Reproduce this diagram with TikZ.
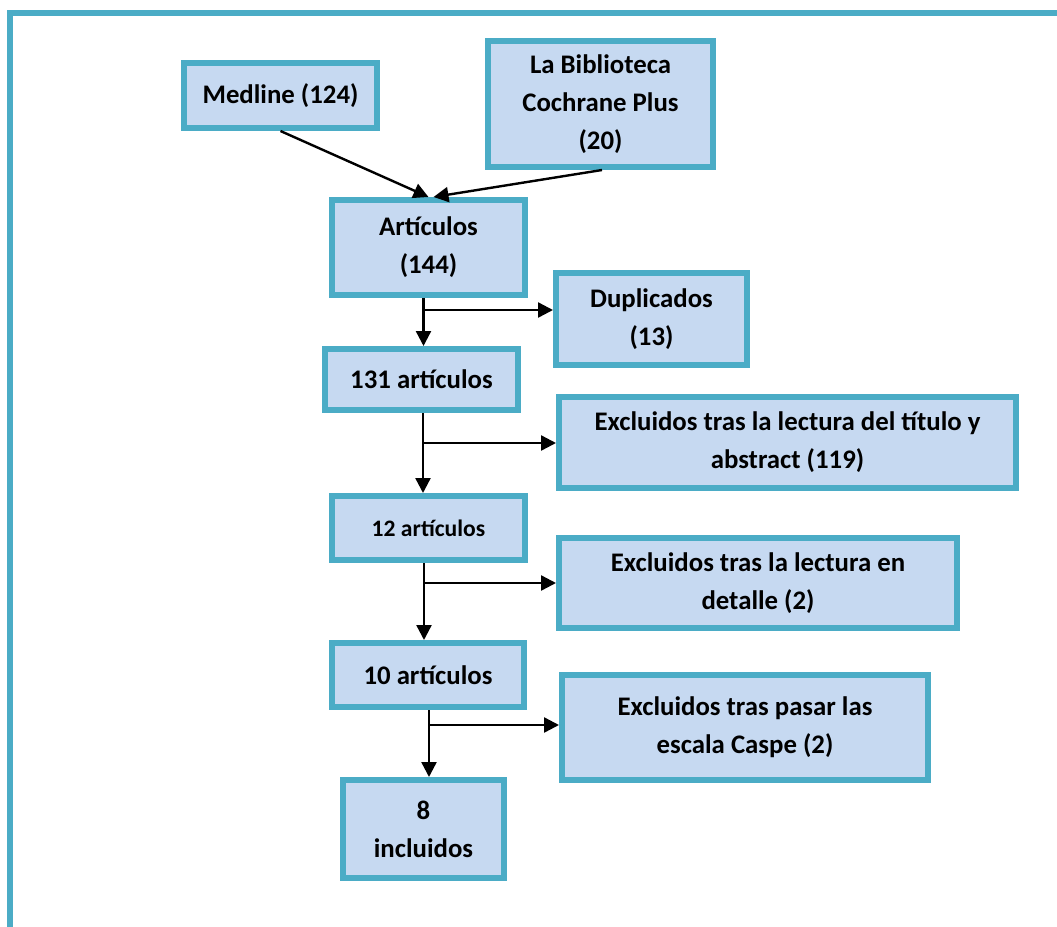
\documentclass[tikz,border=0pt]{standalone}
\usepackage{fontspec}
\setmainfont{Carlito}
\usetikzlibrary{arrows.meta,calc}
\definecolor{tealb}{HTML}{4BACC6}
\definecolor{boxfill}{HTML}{C6D9F1}
\tikzset{
  flowbox/.style={draw=tealb, fill=boxfill, line width=3pt, rectangle, align=center,
    inner sep=0pt, font=\bfseries\fontsize{13.4}{19}\selectfont},
  smallbox/.style={flowbox, font=\bfseries\fontsize{11.8}{17}\selectfont},
  frameline/.style={draw=tealb, line width=3pt, line join=miter},
  conn/.style={draw=black, line width=1.2pt},
  arr/.style={conn, -{Triangle[length=7.5pt,width=7.5pt]}}
}
\begin{document}
\begin{tikzpicture}[x=0.5pt,y=-0.5pt]
\useasboundingbox (0,0) rectangle (1057,927);
\draw[frameline] (10,927) -- (10,13) -- (1057,13);

\node[flowbox, minimum width=96.5pt, minimum height=32.5pt] (med) at (280.5,95.5) {Medline (124)};
\node[flowbox, minimum width=112.5pt, minimum height=63pt] (coch) at (600.5,104) {\raisebox{-2pt}{\begin{tabular}{@{}c@{}}La Biblioteca\\Cochrane Plus\\(20)\end{tabular}}};
\node[flowbox, minimum width=96.5pt, minimum height=47.5pt] (art) at (428.5,247.5) {Artículos\\(144)};
\node[flowbox, minimum width=95.5pt, minimum height=46pt] (dup) at (651.5,319) {Duplicados\\(13)};
\node[flowbox, minimum width=96.5pt, minimum height=30.5pt] (a131) at (421.5,379.5) {131 artículos};
\node[flowbox, minimum width=228.5pt, minimum height=45.5pt] (ex1) at (787.5,442.5) {Excluidos tras la lectura del título y\\abstract (119)};
\node[smallbox, minimum width=96.5pt, minimum height=32pt] (a12) at (428.5,528) {12 artículos};
\node[flowbox, minimum width=199pt, minimum height=45pt] (ex2) at (758,583) {Excluidos tras la lectura en\\detalle (2)};
\node[flowbox, minimum width=96pt, minimum height=32pt] (a10) at (428,675) {10 artículos};
\node[flowbox, minimum width=183pt, minimum height=52.5pt] (ex3) at (745,727.5) {Excluidos tras pasar las\\escala Caspe (2)};
\node[flowbox, minimum width=80.5pt, minimum height=49pt] (inc) at (423.5,829) {8\\incluidos};

% inputs
\draw[arr] (med.south) -- (art.north);
\draw[arr] ($(coch.south)+(1.5,0)$) -- ($(art.north)+(5,0)$);

% artículos -> 131
\coordinate (s1) at ($(art.south)+(-5,0)$);
\coordinate (b1) at (423,310);
\draw[arr] (s1) -- (s1 |- a131.north);
\draw[arr] (b1) -- (dup.west |- b1);

% 131 -> 12
\coordinate (s2) at (423,413);
\coordinate (b2) at (423,443);
\draw[arr] (s2) -- (s2 |- a12.north);
\draw[arr] (b2) -- (ex1.west |- b2);

% 12 -> 10
\coordinate (s3) at (424,563);
\coordinate (b3) at (424,583);
\draw[arr] (s3) -- (s3 |- a10.north);
\draw[arr] (b3) -- (ex2.west |- b3);

% 10 -> 8
\coordinate (s4) at (429,710);
\coordinate (b4) at (429,725);
\draw[arr] (s4) -- (s4 |- inc.north);
\draw[arr] (b4) -- (ex3.west |- b4);
\end{tikzpicture}
\end{document}
